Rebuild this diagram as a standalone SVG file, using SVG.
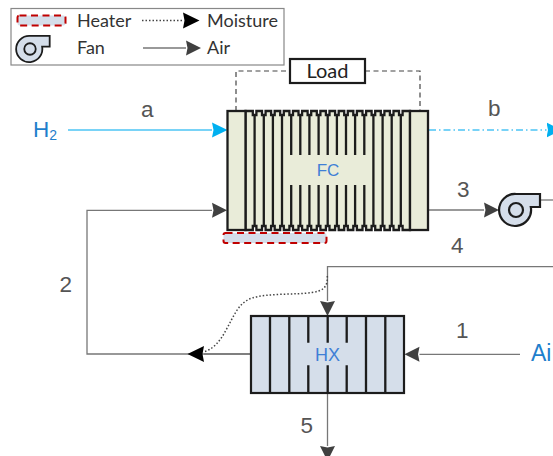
<svg xmlns="http://www.w3.org/2000/svg" width="553" height="456" viewBox="0 0 553 456">
<style>
.num{font-family:"Liberation Sans",Arial,sans-serif;font-size:22.500px;fill:#555}
.leg{font-family:Lato,"Open Sans",sans-serif;font-size:18px;fill:#333}
.blue{font-family:"Liberation Sans",Arial,sans-serif;fill:#1f7fcc}
.lbl{font-family:"Liberation Sans",Arial,sans-serif;font-size:18px;fill:#3f7fd6;text-anchor:middle}
.air{fill:none;stroke:#777;stroke-width:1.3}
.rib{fill:none;stroke:#1c1c1c;stroke-width:2.300}
.plate{fill:#e9ecd9;stroke:#1c1c1c;stroke-width:2.300}
.hxb{fill:#d5deea;stroke:#1c1c1c;stroke-width:2.200}
.fan{fill:#d5deea;stroke:#1c1c1c;stroke-width:2.200}
.heat{fill:#d5deea;stroke:#c00000;stroke-width:2;stroke-dasharray:7 4.5}
.dot{fill:none;stroke:#444;stroke-width:1.500;stroke-dasharray:1.500 2}
</style>
<defs>
<marker id="ad" markerUnits="userSpaceOnUse" markerWidth="16" markerHeight="16" refX="0" refY="8" orient="auto"><path d="M0 .5L15 8L0 15.5L1.500 8Z" fill="#404040"/></marker>
<marker id="ab" markerUnits="userSpaceOnUse" markerWidth="17" markerHeight="18" refX="0" refY="9" orient="auto"><path d="M0 1L16.500 9L0 17L1.500 9Z" fill="#000"/></marker>
<marker id="ac" markerUnits="userSpaceOnUse" markerWidth="16" markerHeight="16" refX="0" refY="8" orient="auto"><path d="M0 .5L15.500 8L0 15.500L1.500 8Z" fill="#00b0f0"/></marker>
<g id="fanShape"><path class="fan" d="M0-16H24V-3H14.800A16 16 0 1 1 0-16Z"/><circle cx="0" cy="0" r="7" fill="#d5deea" stroke="#1c1c1c" stroke-width="2.200"/></g>
</defs>

<g id="legend">
<rect x="11" y="8.500" width="273" height="56.500" fill="#fff" stroke="#888" stroke-width="1.200"/>
<rect class="heat" x="17.500" y="15.500" width="48" height="10" rx="2"/>
<text class="leg" x="77" y="27">Heater</text>
<path class="dot" d="M142 20.500H183" marker-end="url(#ab)"/>
<text class="leg" x="207" y="27">Moisture</text>
<use href="#fanShape" transform="translate(30 49) scale(.82)"/>
<text class="leg" x="77" y="54">Fan</text>
<path class="air" d="M143 48H186" marker-end="url(#ad)"/>
<text class="leg" x="207" y="54">Air</text>
</g>

<g id="connectors">
<path d="M236 111V71H290M365 71H420V111" fill="none" stroke="#444" stroke-width="1.200" stroke-dasharray="5 3.500"/>
<path d="M68 130H212" fill="none" stroke="#4cc4f5" stroke-width="1.300" marker-end="url(#ac)"/>
<path d="M429 130H546.500" fill="none" stroke="#4cc4f5" stroke-width="1.300" stroke-dasharray="7 3 1.500 3" marker-end="url(#ac)"/>
<path class="air" d="M251 354H87V210.300H212" marker-end="url(#ad)"/>
<path class="air" d="M429 210H484" marker-end="url(#ad)"/>
<path class="air" d="M540 200H553"/>
<path class="air" d="M553 266.700H327.500V301" marker-end="url(#ad)"/>
<path class="air" d="M520 354.300H419.500" marker-end="url(#ad)"/>
<path class="air" d="M327.500 393V446" marker-end="url(#ad)"/>
<path class="air" d="M204 354H251"/>
<path class="dot" d="M327.300 276C328 288 322 291 312 292.500C295 295 268 293 252 298C238 303 234 316 226 330C220 342 212 350 203 352"/>
<path d="M204 346L187.500 354L204 362L202.500 354Z" fill="#000"/>
</g>

<g id="fc">
<path class="plate" d="M245.500 111H252.800V115H256.400V111H262V115H265.600V111H271.100V115H274.700V111H280.200V115H283.800V111H289.400V115H293V111H298.500V115H302.100V111H307.600V115H311.200V111H316.800V115H320.400V111H325.900V115H329.500V111H335.100V115H338.700V111H344.200V115H347.800V111H353.300V115H356.900V111H362.500V115H366.100V111H371.600V115H375.200V111H380.800V115H384.400V111H389.900V115H393.500V111H399V115H402.600V111H410V230H402.600V226H399V230H393.500V226H389.900V230H384.400V226H380.800V230H375.200V226H371.600V230H366.100V226H362.500V230H356.900V226H353.300V230H347.800V226H344.200V230H338.700V226H335.100V230H329.500V226H325.900V230H320.400V226H316.800V230H311.200V226H307.600V230H302.100V226H298.500V230H293V226H289.400V230H283.800V226H280.200V230H274.700V226H271.100V230H265.600V226H262V230H256.400V226H252.800V230H245.500Z"/>
<path class="rib" d="M254.600 115V226M263.800 115V226M272.900 115V226M282 115V226M373.400 115V226M382.600 115V226M391.700 115V226M400.800 115V226"/>
<path class="rib" d="M291.200 115V155M300.300 115V155M309.400 115V155M318.600 115V155M327.700 115V155M336.900 115V155M346 115V155M355.100 115V155M364.300 115V155M291.200 185V226M300.300 185V226M309.400 185V226M318.600 185V226M327.700 185V226M336.900 185V226M346 185V226M355.100 185V226M364.300 185V226"/>
<rect class="plate" x="227.500" y="111" width="18" height="119"/>
<rect class="plate" x="410" y="111" width="18" height="119"/>
<text class="lbl" x="328" y="176" style="font-size:17px">FC</text>
</g>

<g id="load">
<rect x="290" y="59" width="75" height="24" fill="#fff" stroke="#1c1c1c" stroke-width="2.200"/>
<text x="327.500" y="77.500" font-family="Lato,'Open Sans',sans-serif" font-size="20" fill="#222" text-anchor="middle">Load</text>
</g>

<g id="heater"><rect class="heat" x="223.500" y="233" width="103" height="10" rx="2"/></g>

<g id="fan"><use href="#fanShape" transform="translate(516 210)"/></g>

<g id="hx">
<rect class="hxb" x="251" y="316" width="153" height="77"/>
<path class="rib" d="M270 316V393M289.300 316V393M366 316V393M385.300 316V393M308.300 316V342.700M327.700 316V342.700M346.700 316V342.700M308.300 365.300V393M327.700 365.300V393M346.700 365.300V393"/>
<text class="lbl" x="327.500" y="361">HX</text>
</g>

<g id="labels">
<text class="blue" x="33" y="137" font-size="22.500">H<tspan font-size="14" dy="3">2</tspan></text>
<text class="blue" x="531" y="361" font-size="23">Ai</text>
<text class="num" x="141" y="117">a</text>
<text class="num" x="488" y="116">b</text>
<text class="num" x="59.500" y="291.500">2</text>
<text class="num" x="457" y="196.500">3</text>
<text class="num" x="451" y="252.500">4</text>
<text class="num" x="456" y="337.500">1</text>
<text class="num" x="300.500" y="433">5</text>
</g>
</svg>
